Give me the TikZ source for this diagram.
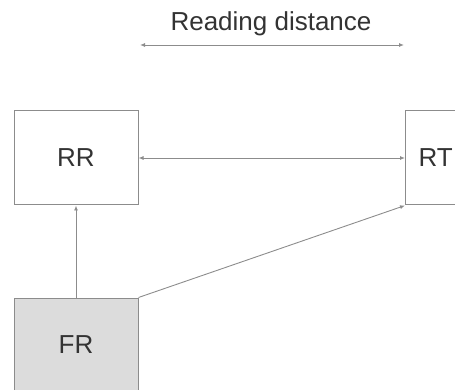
\documentclass[tikz,border=0pt]{standalone}
\usepackage{fontspec}
\setmainfont{Liberation Sans}
\usetikzlibrary{arrows.meta}
\definecolor{linegray}{HTML}{8C8C8C}
\definecolor{textgray}{HTML}{333333}
\definecolor{fillgray}{HTML}{DCDCDC}
\begin{document}
\begin{tikzpicture}[x=1pt,y=-1pt,
  box/.style={draw=linegray, line width=1pt, minimum width=124pt, minimum height=94pt, inner sep=0pt,
    font=\fontsize{26}{30}\selectfont, text=textgray},
  conn/.style={draw=linegray, line width=0.9pt},
  tip/.style={-{Latex[length=5pt,width=4pt]}},
  bitip/.style={{Latex[length=5pt,width=4pt]}-{Latex[length=5pt,width=4pt]}}]
\useasboundingbox (0,0) rectangle (455,390);
\clip (0,0) rectangle (455,390);
\node[box] (RR) at (76,158) {RR};
\node[box, anchor=west, text width=98pt, inner xsep=13pt, align=left] (RT) at (405,158) {RT};
\node[box, fill=fillgray] (FR) at (76,345) {FR};
\node[text=textgray, font=\fontsize{26}{30}\selectfont] (lbl) at (271,24) {Reading distance};
\coordinate (dl) at (140,45);
\coordinate (dr) at (404,45);
\draw[conn, bitip] (dl) -- (dr);
\draw[conn, bitip] (RR.east) -- (RT.west);
\draw[conn, tip] (FR.north) -- (RR.south);
\draw[conn, tip] (FR.north east) -- (RT.south west);
\end{tikzpicture}
\end{document}
